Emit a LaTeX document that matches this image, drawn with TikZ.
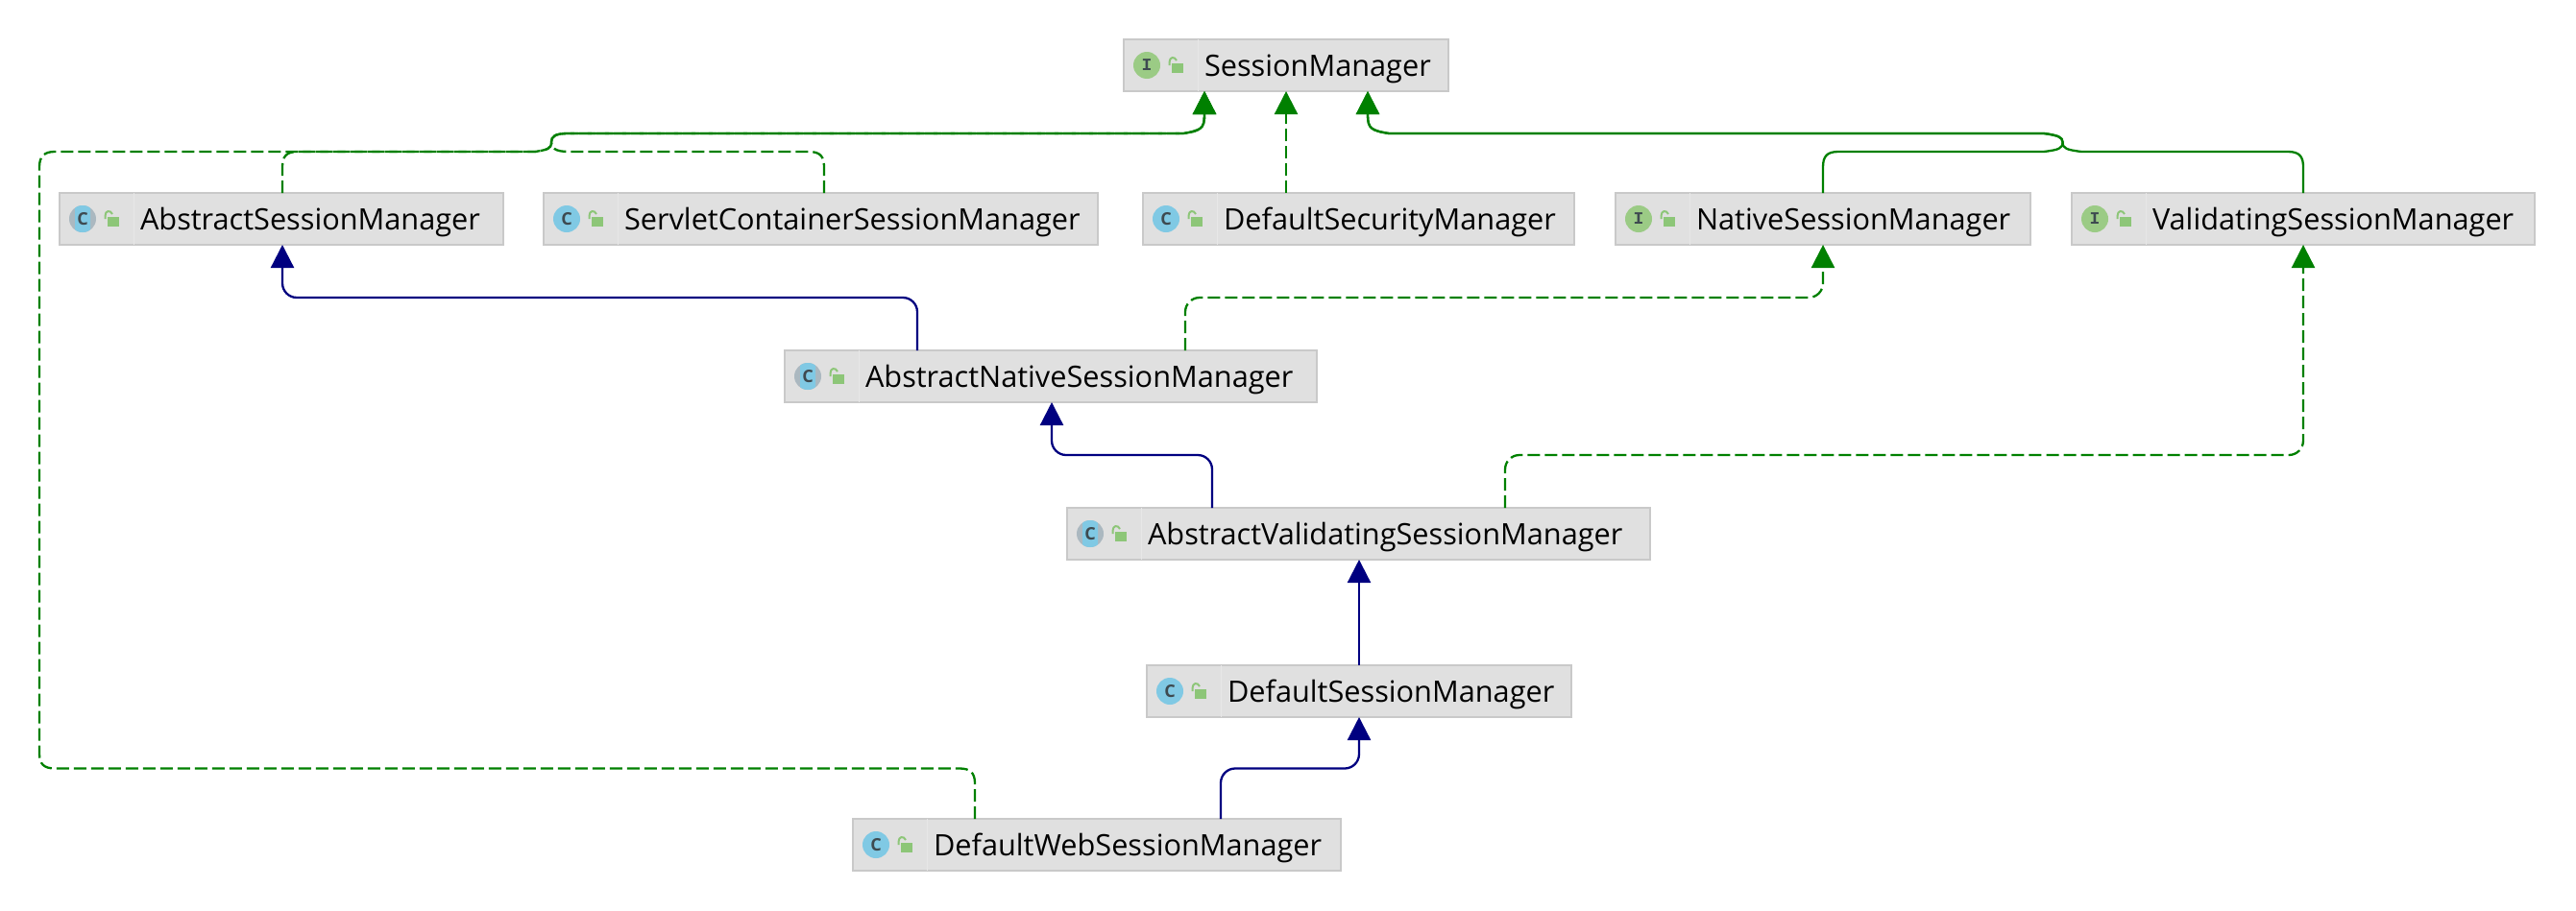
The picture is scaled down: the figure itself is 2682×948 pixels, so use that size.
\documentclass[tikz,border=0pt]{standalone}
\usepackage{fontspec}
\setmainfont{Open Sans}
\newfontfamily\iconfont{Liberation Mono}
\usetikzlibrary{arrows.meta}
\definecolor{boxfill}{HTML}{E0E0E0}
\definecolor{boxline}{HTML}{C9C9C9}
\definecolor{divline}{HTML}{E7E7E7}
\definecolor{implgreen}{HTML}{008000}
\definecolor{extblue}{HTML}{000080}
\definecolor{classblue}{HTML}{80C9E4}
\definecolor{ifacegreen}{HTML}{9BCB85}
\definecolor{abstractgray}{HTML}{ABB8C0}
\definecolor{lockgreen}{HTML}{8DC678}
\definecolor{letterdark}{HTML}{3E4A50}
\tikzset{
  umlbox/.style={draw=boxline,fill=boxfill,line width=2pt,rectangle,inner sep=0pt,outer sep=0pt,
    anchor=north west,minimum height=54pt,align=left,font=\fontsize{30.7}{36}\selectfont},
  iconletter/.style={inner sep=0pt,text=letterdark},
  letterC/.style={iconletter,font=\bfseries\fontsize{18}{18}\selectfont},
  letterI/.style={iconletter,font=\iconfont\bfseries\fontsize{18}{18}\selectfont},
  conn/.style={line width=2.3pt,rounded corners=15pt},
  implplain/.style={line width=2.3pt,draw=implgreen,-{Triangle[length=24pt,width=24pt]}},
  impl/.style={conn,draw=implgreen,-{Triangle[length=24pt,width=24pt]}},
  impldash/.style={impl,dash pattern=on 13pt off 5pt},
  impldashplain/.style={implplain,dash pattern=on 13pt off 5pt},
  extends/.style={conn,draw=extblue,-{Triangle[length=24pt,width=24pt]}}
}
\newcommand{\lockicon}{%
  \fill[lockgreen] (50,-2) rectangle (62,8);
  \draw[lockgreen,line width=2pt] (47.5,0) -- (47.5,-3) .. controls (47.5,-9) and (53,-9.5) .. (55,-5);
  \draw[divline,line width=1pt] (77,-27) -- (77,27);
}
\newcommand{\iconC}[1]{%
  \fill[classblue] (24,0) circle (14);
  \node[letterC] (#1-icon) at (24,0) {C};
}
\newcommand{\iconI}[1]{%
  \fill[ifacegreen] (24,0) circle (14);
  \node[letterI] (#1-icon) at (24,0) {I};
}
\newcommand{\iconA}[1]{%
  \fill[abstractgray] (24,0) circle (14);
  \begin{scope}
    \clip (16,-14) rectangle (32,14);
    \fill[classblue] (24,0) circle (14);
  \end{scope}
  \node[letterC] (#1-icon) at (24,0) {C};
}
\newcommand{\umlnode}[7]{%
  \pgfmathsetlengthmacro{\boxw}{#4-#2-2}%
  \node[umlbox,minimum width=\boxw,text width=\boxw] (#1) at (#2+1,#3+1) {\hspace*{84pt}\rule[-8pt]{0pt}{39pt}#7};
  \begin{scope}[shift={(#1.west)}]
    \lockicon
    #6{#1}
  \end{scope}
}
% trunk from the left junction to the left tip of SessionManager
\newcommand{\lefttrunk}{
  .. controls (574,142) and (578,139) .. (592,139)
  -- (1232,139) .. controls (1250,136) and (1254,134) .. (1254,120)}
\newcommand{\righttrunk}{
  .. controls (2147.5,143) and (2143,141) .. (2128,139)
  -- (1446,139) .. controls (1428,136) and (1424,134) .. (1424,120)}
\begin{document}
\begin{tikzpicture}[x=1pt,y=-1pt]
\useasboundingbox (0,0) rectangle (2682,948);
\umlnode{sm}{1169}{40}{1509}{96}{\iconI}{SessionManager}
\umlnode{asm}{61}{200}{525}{256}{\iconA}{AbstractSessionManager}
\umlnode{scsm}{565}{200}{1144}{256}{\iconC}{ServletContainerSessionManager}
\umlnode{dsec}{1189}{200}{1640}{256}{\iconC}{DefaultSecurityManager}
\umlnode{nsm}{1681}{200}{2115}{256}{\iconI}{NativeSessionManager}
\umlnode{vsm}{2156}{200}{2640}{256}{\iconI}{ValidatingSessionManager}
\umlnode{ansm}{816}{364}{1372}{420}{\iconA}{AbstractNativeSessionManager}
\umlnode{avsm}{1110}{528}{1719}{584}{\iconA}{AbstractValidatingSessionManager}
\umlnode{dsm}{1193}{692}{1637}{748}{\iconC}{DefaultSessionManager}
\umlnode{dwsm}{887}{852}{1397}{908}{\iconC}{DefaultWebSessionManager}

% dashed edges into the left tip of SessionManager
\draw[impldashplain] (294,0 |- asm.north) -- (294,174) .. controls (294,163) and (298,158) .. (310,158) -- (557,158)
  .. controls (570,156) and (574,155) .. (574,148)
  \lefttrunk -- (1254,0 |- sm.south);
\draw[impldashplain] (858,0 |- scsm.north) -- (858,174) .. controls (858,163) and (854,158) .. (842,158) -- (592,158)
  .. controls (578,158) and (574,154) .. (574,148)
  \lefttrunk -- (1254,0 |- sm.south);
\draw[impldashplain] (1015,0 |- dwsm.north) -- (1015,816) .. controls (1015,805) and (1010,800.5) .. (999,800.5)
  -- (57,800.5) .. controls (46,800.5) and (41,796) .. (41,785)
  -- (41,174) .. controls (41,163) and (46,158) .. (57,158) -- (557,158)
  .. controls (570,156) and (574,155) .. (574,148)
  \lefttrunk -- (1254,0 |- sm.south);
\draw[impldash] (1339,0 |- dsec.north) -- (1339,0 |- sm.south);

% solid edges into the right tip of SessionManager
\draw[implplain] (1898,0 |- nsm.north) -- (1898,174) .. controls (1898,163) and (1902,158) .. (1914,158) -- (2128,158)
  .. controls (2143,156) and (2147.5,155) .. (2147.5,148)
  \righttrunk -- (1424,0 |- sm.south);
\draw[implplain] (2398,0 |- vsm.north) -- (2398,174) .. controls (2398,163) and (2394,158) .. (2382,158) -- (2167,158)
  .. controls (2152,156) and (2147.5,155) .. (2147.5,148)
  \righttrunk -- (1424,0 |- sm.south);

% remaining edges
\draw[extends] (955,0 |- ansm.north) -- (955,310) -- (294,310) -- (294,0 |- asm.south);
\draw[impldash] (1234,0 |- ansm.north) -- (1234,310) -- (1898,310) -- (1898,0 |- nsm.south);
\draw[extends] (1262,0 |- avsm.north) -- (1262,474) -- (1095,474) -- (1095,0 |- ansm.south);
\draw[impldash] (1567,0 |- avsm.north) -- (1567,474) -- (2398,474) -- (2398,0 |- vsm.south);
\draw[extends] (1415,0 |- dsm.north) -- (1415,0 |- avsm.south);
\draw[extends] (1271,0 |- dwsm.north) -- (1271,800.5) -- (1415,800.5) -- (1415,0 |- dsm.south);
\end{tikzpicture}
\end{document}
